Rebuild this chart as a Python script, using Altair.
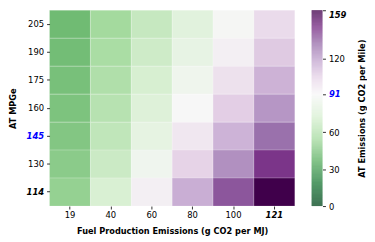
import altair as alt
import pandas as pd
import numpy as np

fpe = [19, 40, 60, 80, 100, 121]
mpge = [205, 190, 175, 160, 145, 130, 114]
emissions = [
    [41.6, 54.1, 65.9, 77.7, 89.6, 102.0],
    [42.5, 55.9, 68.7, 81.5, 94.2, 107.6],
    [43.6, 58.1, 72.0, 85.9, 99.7, 114.3],
    [44.8, 60.7, 75.9, 91.1, 106.2, 122.1],
    [46.3, 63.9, 80.6, 97.3, 114.1, 131.6],
    [48.1, 67.7, 86.4, 105.0, 123.7, 143.3],
    [50.6, 73.0, 94.2, 115.5, 136.8, 159.0],
]
cbar_ticks = [0, 30, 60, 91, 120, 159]
cmin, cmid, cmax = 0, 91, 159

# reversed PRGn (green -> white -> purple)
prgn_r = ["#00441b", "#1b7837", "#5aae61", "#a6dba0", "#d9f0d3", "#f7f7f7",
          "#e7d4e8", "#c2a5cf", "#9970ab", "#762a83", "#40004b"]
dom = list(np.linspace(cmin, cmid, 6)) + list(np.linspace(cmid, cmax, 6))[1:]

rows = []
for i, m in enumerate(mpge):
    for j, f in enumerate(fpe):
        rows.append({"FPE": f, "MPGe": m, "AT": emissions[i][j]})
df = pd.DataFrame(rows)

color_scale = alt.Scale(domain=dom, range=prgn_r, interpolate="rgb")

FONT = "DejaVu Sans"

heat = alt.Chart(df).mark_rect(stroke="white", strokeWidth=0.5, strokeOpacity=0.4).encode(
    x=alt.X("FPE:O", sort=fpe, scale=alt.Scale(paddingInner=0, paddingOuter=0),
            axis=alt.Axis(title="Fuel Production Emissions (g CO2 per MJ)", labelAngle=0,
                          domain=False, tickSize=3, tickColor="#333", labelPadding=2,
                          titlePadding=7,
                          labelFontWeight={"condition": {"test": "datum.value == 121", "value": "bold"}, "value": "normal"},
                          labelFontStyle={"condition": {"test": "datum.value == 121", "value": "italic"}, "value": "normal"})),
    y=alt.Y("MPGe:O", sort=mpge, scale=alt.Scale(paddingInner=0, paddingOuter=0),
            axis=alt.Axis(title="AT MPGe", domain=False, tickSize=3, tickColor="#333",
                          labelPadding=3, titlePadding=9,
                          labelColor={"condition": {"test": "datum.value == 145", "value": "blue"}, "value": "black"},
                          labelFontWeight={"condition": {"test": "datum.value == 145 || datum.value == 114", "value": "bold"}, "value": "normal"},
                          labelFontStyle={"condition": {"test": "datum.value == 145 || datum.value == 114", "value": "italic"}, "value": "normal"})),
    color=alt.Color("AT:Q", scale=color_scale, legend=None),
).properties(width=248, height=198)

steps = np.linspace(cmin, cmax, 319)
cb = pd.DataFrame({"lo": steps[:-1], "hi": steps[1:], "mid": (steps[:-1] + steps[1:]) / 2})

cbar = alt.Chart(cb).mark_rect().encode(
    x=alt.value(0), x2=alt.value(11),
    y=alt.Y("lo:Q", scale=alt.Scale(domain=[cmin, cmax], nice=False, zero=False),
            axis=alt.Axis(orient="right", values=cbar_ticks, title="AT Emissions (g CO2 per Mile)",
                          titleAngle=270, domain=False, grid=False, tickSize=3, tickColor="#333",
                          labelPadding=3, titlePadding=21,
                          labelBaseline={"condition": {"test": "datum.value == 159", "value": "top"}, "value": "middle"},
                          labelColor={"condition": {"test": "datum.value == 91", "value": "blue"}, "value": "black"},
                          labelFontWeight={"condition": {"test": "datum.value == 91 || datum.value == 159", "value": "bold"}, "value": "normal"},
                          labelFontStyle={"condition": {"test": "datum.value == 91 || datum.value == 159", "value": "italic"}, "value": "normal"})),
    y2="hi:Q",
    color=alt.Color("mid:Q", scale=color_scale, legend=None),
).properties(width=11, height=198)

chart = alt.hconcat(heat, cbar, spacing=16).properties(
    padding={"left": 0, "top": 0, "right": 0, "bottom": 0}
).configure_view(stroke=None).configure_axis(
    labelFont=FONT, titleFont=FONT, labelFontSize=8.5, titleFontSize=8.3,
    titleFontWeight="bold", labelColor="black", titleColor="black"
)

chart.save("out.html", embed_options={"renderer": "svg", "actions": False})
